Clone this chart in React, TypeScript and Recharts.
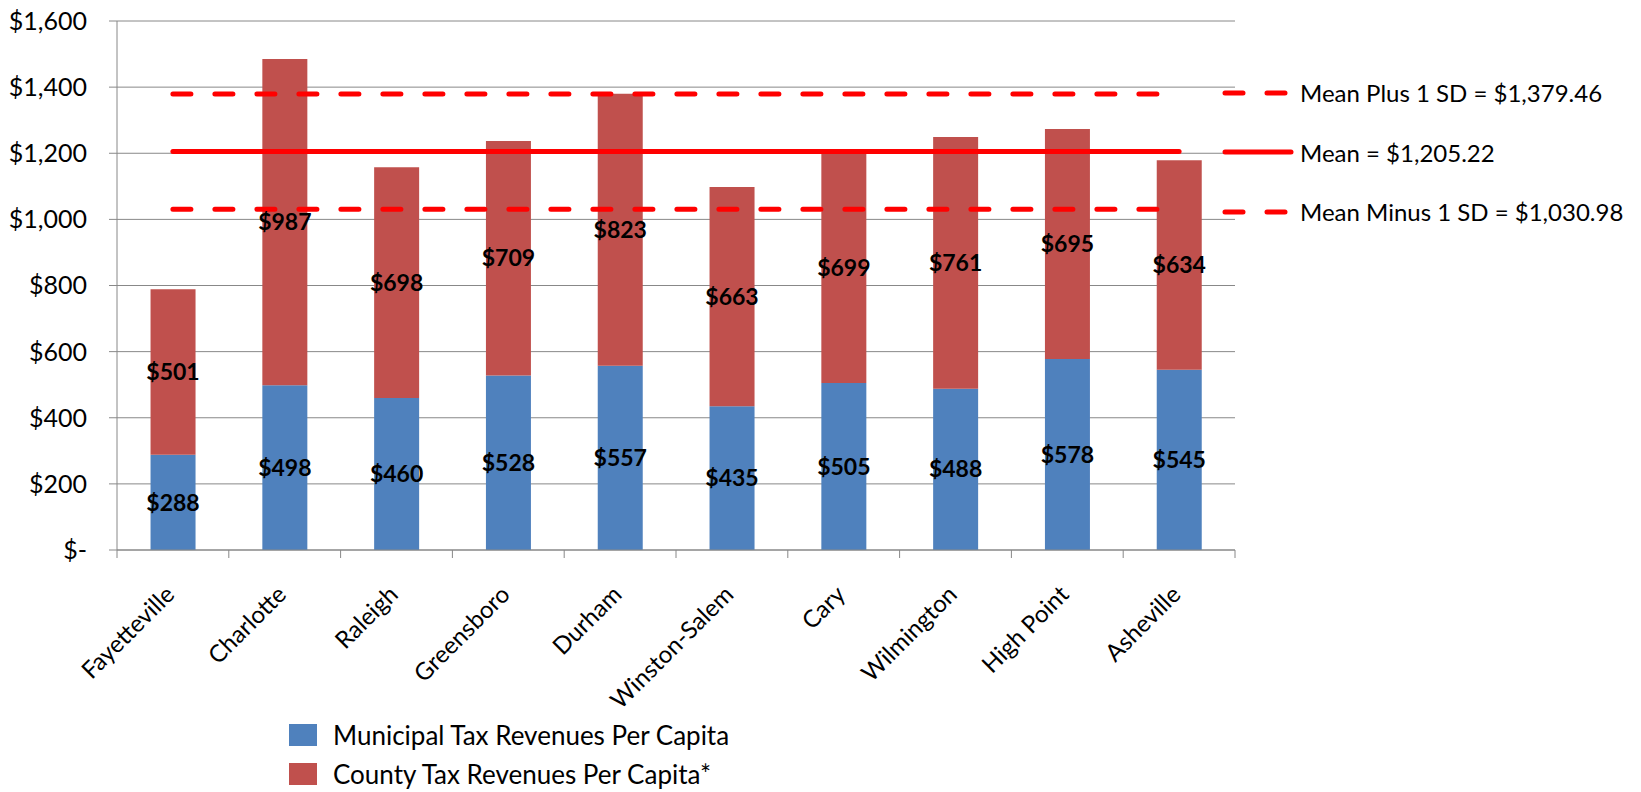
import React from 'react';
import { ComposedChart, Bar, Line, XAxis, YAxis, CartesianGrid, LabelList, Legend } from 'recharts';

const cities = ['Fayetteville', 'Charlotte', 'Raleigh', 'Greensboro', 'Durham', 'Winston-Salem', 'Cary', 'Wilmington', 'High Point', 'Asheville'];
const municipal = [288, 498, 460, 528, 557, 435, 505, 488, 578, 545];
const county = [501, 987, 698, 709, 823, 663, 699, 761, 695, 634];
const meanPlus = 1379.46;
const mean = 1205.22;
const meanMinus = 1030.98;
const yTicks = [0, 200, 400, 600, 800, 1000, 1200, 1400, 1600];

const BLUE = '#4F81BD';
const RED = '#C0504D';
const LINE_RED = '#FF0000';
const AXIS = '#888888';
const FONT = 'Lato, "Open Sans", sans-serif';
const DASH = '18 24';

const data = cities.map((city, i) => ({
  city,
  municipal: municipal[i],
  county: county[i],
  meanPlus,
  mean,
  meanMinus,
}));

const money = (v: number) => (v === 0 ? '$-' : '$' + v.toLocaleString('en-US'));
const money2 = (v: number) => '$' + v.toLocaleString('en-US', { minimumFractionDigits: 2, maximumFractionDigits: 2 });

// category ticks sit between bars, like Excel
const CityTick = (props: any) => {
  const { x, y, payload, index } = props;
  const half = payload.offset ?? 55.9;
  const ax = x + 3;
  const ay = y + 46;
  return (
    <g>
      <line x1={x - half} x2={x - half} y1={y} y2={y + 8} stroke={AXIS} />
      {index === cities.length - 1 && <line x1={x + half} x2={x + half} y1={y} y2={y + 8} stroke={AXIS} />}
      <text x={ax} y={ay} transform={`rotate(-45, ${ax}, ${ay})`} textAnchor="end" fill="#000" fontSize={24} fontFamily={FONT}>
        {payload.value}
      </text>
    </g>
  );
};

const rightItems = [
  { label: 'Mean Plus 1 SD = ' + money2(meanPlus), dashed: true },
  { label: 'Mean = ' + money2(mean), dashed: false },
  { label: 'Mean Minus 1 SD = ' + money2(meanMinus), dashed: true },
];

const bottomItems = [
  { label: 'Municipal Tax Revenues Per Capita', color: BLUE },
  { label: 'County Tax Revenues Per Capita*', color: RED },
];

const LegendBlock = () => (
  <div style={{ position: 'relative', width: 1641, height: 792, fontFamily: FONT, color: '#000' }}>
    <div style={{ position: 'absolute', left: 1220, top: 63 }}>
      {rightItems.map((it) => (
        <div key={it.label} style={{ height: 59.5, display: 'flex', alignItems: 'center' }}>
          <svg width={76} height={10} style={{ marginRight: 4 }}>
            <line x1={5} x2={it.dashed ? 70 : 71} y1={5} y2={5} stroke={LINE_RED} strokeWidth={5}
              strokeLinecap="round" strokeDasharray={it.dashed ? DASH : undefined} />
          </svg>
          <span style={{ fontSize: 24, whiteSpace: 'nowrap' }}>{it.label}</span>
        </div>
      ))}
    </div>
    <div style={{ position: 'absolute', left: 289, top: 715 }}>
      {bottomItems.map((it) => (
        <div key={it.label} style={{ height: 39.5, display: 'flex', alignItems: 'center' }}>
          <span style={{ display: 'inline-block', width: 28, height: 22, background: it.color, marginRight: 16 }} />
          <span style={{ fontSize: 26, whiteSpace: 'nowrap' }}>{it.label}</span>
        </div>
      ))}
    </div>
  </div>
);

export default function App() {
  return (
    <div style={{ position: 'absolute', left: 0, top: 0, background: '#fff' }}>
      <ComposedChart width={1641} height={792} data={data} margin={{ top: 21, right: 406, bottom: 0, left: 0 }} barCategoryGap="30%">
        <CartesianGrid vertical={false} stroke={AXIS} />
        <XAxis dataKey="city" height={242} axisLine={{ stroke: AXIS }} tickLine={false} tickSize={0} tickMargin={0}
          interval={0} tick={<CityTick />} />
        <YAxis width={117} domain={[0, 1600]} ticks={yTicks} interval={0} tickFormatter={money}
          axisLine={{ stroke: AXIS }} tickLine={{ stroke: AXIS }} tickSize={8} tickMargin={22}
          tick={{ fill: '#000', fontSize: 25, fontFamily: FONT }} />
        <Bar dataKey="municipal" stackId="a" fill={BLUE} name="Municipal Tax Revenues Per Capita" isAnimationActive={false}>
          <LabelList dataKey="municipal" position="center" formatter={(v: any) => '$' + v}
            fill="#000" fontSize={23} fontWeight="bold" fontFamily={FONT} />
        </Bar>
        <Bar dataKey="county" stackId="a" fill={RED} name="County Tax Revenues Per Capita*" isAnimationActive={false}>
          <LabelList dataKey="county" position="center" formatter={(v: any) => '$' + v}
            fill="#000" fontSize={23} fontWeight="bold" fontFamily={FONT} />
        </Bar>
        <Line dataKey="meanPlus" stroke={LINE_RED} strokeWidth={5} strokeDasharray={DASH} strokeLinecap="round" dot={false} activeDot={false} isAnimationActive={false} />
        <Line dataKey="mean" stroke={LINE_RED} strokeWidth={5} strokeLinecap="round" dot={false} activeDot={false} isAnimationActive={false} />
        <Line dataKey="meanMinus" stroke={LINE_RED} strokeWidth={5} strokeDasharray={DASH} strokeLinecap="round" dot={false} activeDot={false} isAnimationActive={false} />
        <Legend layout="horizontal" verticalAlign="middle" align="center" content={<LegendBlock />}
          wrapperStyle={{ position: 'absolute', left: 0, top: 0, width: 1641, height: 792 }} />
      </ComposedChart>
    </div>
  );
}
